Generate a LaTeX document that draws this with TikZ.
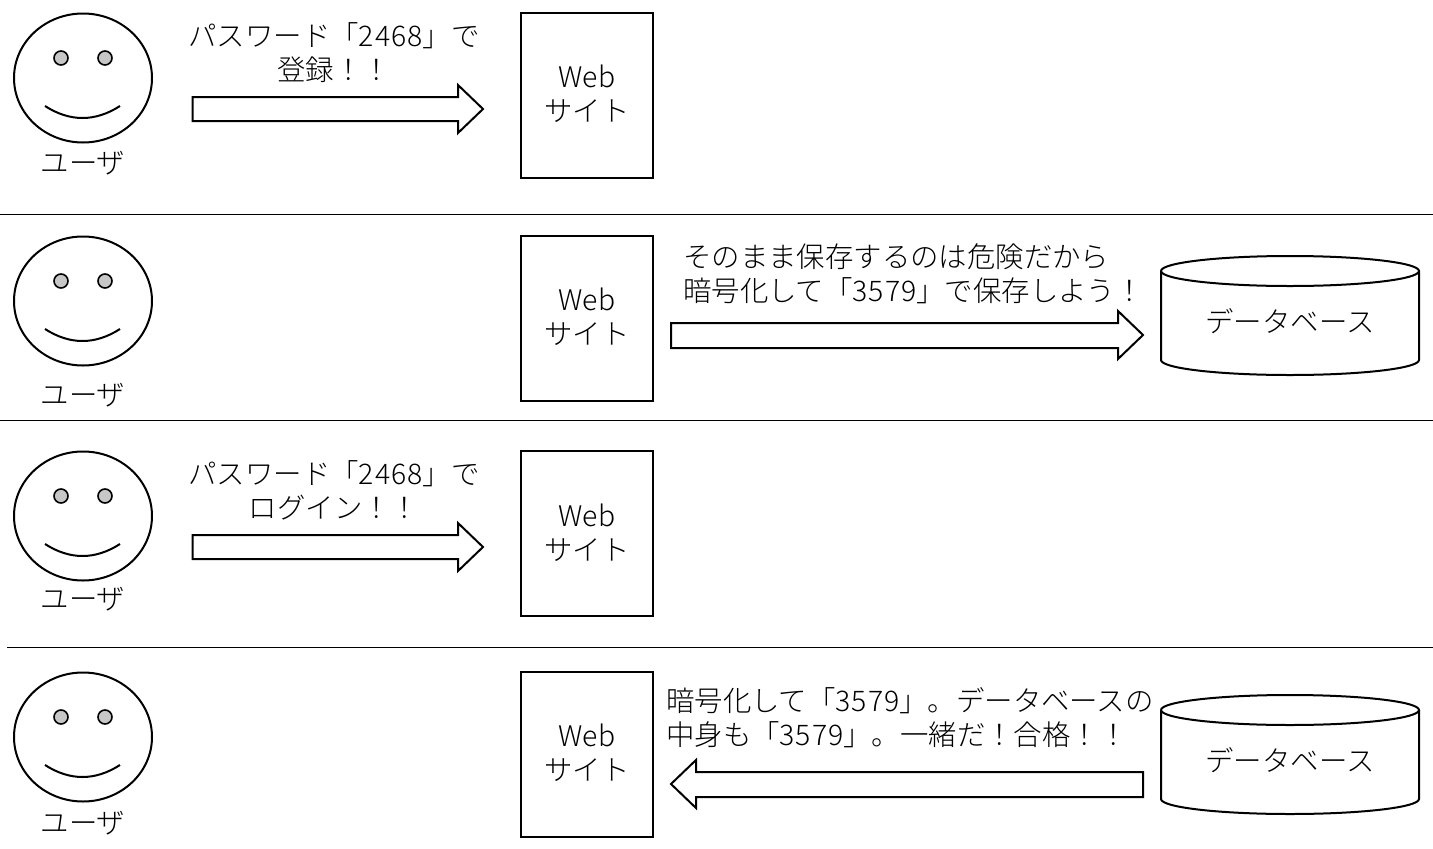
\documentclass[tikz,border=0pt]{standalone}
\usepackage{fontspec}
\setmainfont{Noto Sans CJK JP Light}
\usetikzlibrary{shapes.geometric}
\newcommand{\digs}[1]{{\addfontfeature{LetterSpace=3.5}#1}}
\tikzset{
  x=1pt,y=-1pt,
  ink/.style={draw=black,line width=2pt},
  face/.style={ink,ellipse,minimum width=138pt,minimum height=129pt,inner sep=0pt,outer sep=0pt},
  eye/.style={draw=black,line width=1.6pt,fill=black!22,circle,minimum size=14pt,inner sep=0pt},
  site/.style={ink,minimum width=132pt,minimum height=165pt,inner sep=0pt},
  txt/.style={font=\fontsize{28.4}{34}\selectfont,inner sep=0pt,align=center,text=black},
  txtl/.style={txt,align=left,anchor=west},
  rule/.style={draw=black,line width=1pt},
  endp/.style={inner sep=0pt,outer sep=0pt,minimum size=0pt},
}
\newcommand{\smileface}[2]{%
  \node[face] (f#1) at (83,#2) {};
  \node[eye] (el#1) at (61,#2-20) {};
  \node[eye] (er#1) at (105,#2-20) {};
  \coordinate (sa#1) at (45,#2+28);
  \coordinate (sb#1) at (120,#2+28);
  \draw[ink] (sa#1) .. controls (70,#2+44) and (95,#2+44) .. (sb#1);
}
\newcommand{\datacyl}[3]{% name, top centre y, bottom y
  \coordinate (cl#1) at (1161,#2);
  \coordinate (cr#1) at (1419,#2);
  \draw[ink] (cl#1) arc[start angle=180,end angle=540,x radius=129pt,y radius=15pt];
  \draw[ink] (cl#1) -- (1161,#3-15) arc[start angle=180,delta angle=-180,x radius=129pt,y radius=-15pt] -- (cr#1);
}
\begin{document}
\begin{tikzpicture}
\useasboundingbox (0,0) rectangle (1433,849);
% row 1
\smileface{a}{78}
\node[txt] (ua) at (83,163) {ユーザ};
\node[site] (wa) at (587,95.5) {};
\node[txt] (wta) at (587,94) {Web\\サイト};
\node[txt] (ta) at (334,53) {パスワード「\digs{2468}」で\\登録！！};
\draw[ink] (192.5,97) -- (458,97) -- (458,85) -- (483,109) -- (458,133) -- (458,121) -- (192.5,121) -- cycle;
\node[endp] (lla) at (0,214) {};
\node[endp] (lra) at (1433,214) {};
\draw[rule] (lla) -- (lra);
% row 2
\smileface{b}{301}
\node[txt] (ub) at (83,395) {ユーザ};
\node[site] (wb) at (587,318.5) {};
\node[txt] (wtb) at (587,317) {Web\\サイト};
\node[txtl] (tb) at (683,274) {そのまま保存するのは危険だから\\暗号化して「\digs{3579}」で保存しよう！};
\draw[ink] (671,323) -- (1118,323) -- (1118,311) -- (1143,335) -- (1118,359) -- (1118,348) -- (671,348) -- cycle;
\datacyl{b}{271}{375}
\node[txt] (db) at (1290,321) {データベース};
\node[endp] (llb) at (0,420) {};
\node[endp] (lrb) at (1433,420) {};
\draw[rule] (llb) -- (lrb);
% row 3
\smileface{c}{516}
\node[txt] (uc) at (83,599) {ユーザ};
\node[site] (wc) at (587,533.5) {};
\node[txt] (wtc) at (587,533) {Web\\サイト};
\node[txt] (tc) at (334,490) {パスワード「\digs{2468}」で\\ログイン！！};
\draw[ink] (192.5,535) -- (458,535) -- (458,523) -- (483,547) -- (458,571) -- (458,559) -- (192.5,559) -- cycle;
\node[endp] (llc) at (7,647) {};
\node[endp] (lrc) at (1433,647) {};
\draw[rule] (llc) -- (lrc);
% row 4
\smileface{d}{737}
\node[txt] (ud) at (83,823) {ユーザ};
\node[site] (wd) at (587,754.5) {};
\node[txt] (wtd) at (587,753) {Web\\サイト};
\node[txtl] (td) at (666,717.5) {暗号化して「\digs{3579}」。データベースの\\中身も「\digs{3579}」。一緒だ！合格！！};
\draw[ink] (1143,772) -- (696,772) -- (696,760) -- (671,784) -- (696,808) -- (696,797) -- (1143,797) -- cycle;
\datacyl{d}{710}{814}
\node[txt] (dd) at (1290,760) {データベース};
\end{tikzpicture}
\end{document}
